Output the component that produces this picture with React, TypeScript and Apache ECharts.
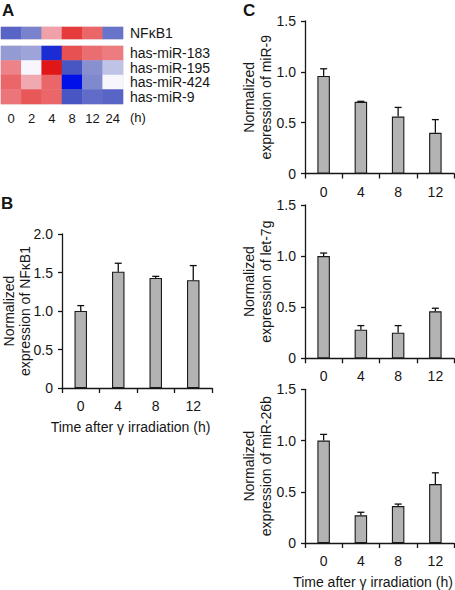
import React, { useEffect, useRef } from "react";
import * as echarts from "echarts";

// ---- Data ----
const heatTimes = ["0", "2", "4", "8", "12", "24"];
const heatGene = ["NFκB1"];
const nfkb1Heat = [-1.6, -1.2, 1.0, 2.4, 1.8, -1.4];
const mirNames = ["has-miR-183", "has-miR-195", "has-miR-424", "has-miR-9"];
const mir183Heat = [-0.9, -0.8, -2.5, 2.1, 1.7, 1.5];
const mir195Heat = [1.4, 0.0, 2.9, -1.8, -1.0, -0.5];
const mir424Heat = [1.8, 0.9, 1.8, -3.0, -1.1, 0.0];
const mir9Heat = [1.6, 2.0, 1.8, -1.8, -1.5, -1.6];

const timeLabels = ["0", "4", "8", "12"];
const nfkb1Mean = [1.0, 1.51, 1.43, 1.4];
const nfkb1Err = [0.07, 0.11, 0.02, 0.19];
const mir9Mean = [0.96, 0.705, 0.56, 0.40];
const mir9Err = [0.07, 0.005, 0.09, 0.13];
const let7gMean = [1.0, 0.28, 0.25, 0.46];
const let7gErr = [0.03, 0.04, 0.07, 0.03];
const mir26bMean = [1.0, 0.27, 0.36, 0.575];
const mir26bErr = [0.06, 0.03, 0.02, 0.11];

const FONT = "Liberation Sans, Arial, sans-serif";
const INK = "#161616";

export default function App() {
  const ref = useRef<HTMLDivElement>(null);
  useEffect(() => {
    if (!ref.current) return;
    const chart = echarts.init(ref.current, null, { renderer: "svg" });

    const heatRows = [mir183Heat, mir195Heat, mir424Heat, mir9Heat];
    const geneData = nfkb1Heat.map((v, i) => [i, 0, v]);
    const mirData: number[][] = [];
    heatRows.forEach((row, r) => row.forEach((v, c) => mirData.push([c, r, v])));

    const barGrids = [
      { left: 62, top: 234, width: 150, height: 154 },
      { left: 305, top: 21, width: 149, height: 152.5 },
      { left: 305, top: 205, width: 149, height: 153.3 },
      { left: 305, top: 389.3, width: 149, height: 153.7 },
    ];
    const barSets = [
      { mean: nfkb1Mean, err: nfkb1Err, max: 2, name: "Normalized\nexpression of NFκB1", xname: true, gap: 29, lh: 16 },
      { mean: mir9Mean, err: mir9Err, max: 1.5, name: "Normalized\nexpression of miR-9", xname: false, gap: 31, lh: 17 },
      { mean: let7gMean, err: let7gErr, max: 1.5, name: "Normalized\nexpression of let-7g", xname: false, gap: 31, lh: 17 },
      { mean: mir26bMean, err: mir26bErr, max: 1.5, name: "Normalized\nexpression of miR-26b", xname: true, gap: 31, lh: 17 },
    ];

    const grids: any[] = [
      { left: 1, top: 27, width: 122, height: 12, show: true, borderColor: "#eadde2", borderWidth: 1, outerBoundsMode: "none" },
      { left: 1, top: 46, width: 122, height: 58, show: true, borderColor: "#eadde2", borderWidth: 1, outerBoundsMode: "none" },
      ...barGrids.map((g) => ({ ...g, outerBoundsMode: "none" })),
    ];

    const xAxes: any[] = [
      { gridIndex: 0, type: "category", data: heatTimes, show: false },
      {
        gridIndex: 1, type: "category", data: heatTimes,
        axisLine: { show: false }, axisTick: { show: false },
        axisLabel: { fontSize: 13, color: INK, fontFamily: FONT, margin: 8, interval: 0 },
      },
    ];
    const yAxes: any[] = [
      {
        gridIndex: 0, type: "category", data: heatGene, position: "right",
        axisLine: { show: false }, axisTick: { show: false },
        axisLabel: { fontSize: 14, color: INK, fontFamily: FONT, margin: 7, interval: 0 },
      },
      {
        gridIndex: 1, type: "category", data: mirNames, position: "right", inverse: true,
        axisLine: { show: false }, axisTick: { show: false },
        axisLabel: { fontSize: 14, color: INK, fontFamily: FONT, margin: 7, interval: 0 },
      },
    ];
    const series: any[] = [
      { type: "heatmap", xAxisIndex: 0, yAxisIndex: 0, data: geneData, itemStyle: { borderWidth: 0 } },
      { type: "heatmap", xAxisIndex: 1, yAxisIndex: 1, data: mirData, itemStyle: { borderWidth: 0 } },
    ];

    barSets.forEach((s, k) => {
      const gi = k + 2;
      xAxes.push({
        gridIndex: gi, type: "category", data: timeLabels,
        axisLine: { lineStyle: { color: INK, width: 1.3 } },
        axisTick: { show: true, length: 5, lineStyle: { color: INK, width: 1.3 } },
        axisLabel: { fontSize: 14, color: INK, fontFamily: FONT, margin: 11, interval: 0 },
        name: s.xname ? "Time after γ irradiation (h)" : "",
        nameLocation: "middle", nameGap: 32, nameMoveOverlap: false,
        nameTextStyle: { fontSize: 14, color: INK, fontFamily: FONT, padding: [0, 13, 0, 0] },
      });
      yAxes.push({
        gridIndex: gi, type: "value", min: 0, max: s.max, interval: 0.5,
        axisLine: { show: true, lineStyle: { color: INK, width: 1.3 } },
        axisTick: { show: true, length: 4, lineStyle: { color: INK, width: 1.3 } },
        splitLine: { show: false },
        axisLabel: {
          fontSize: 14, color: INK, fontFamily: FONT, margin: 9,
          formatter: (v: number) => (v === 0 ? "0" : v.toFixed(1)),
        },
        name: s.name, nameLocation: "middle", nameGap: s.gap, nameRotate: 90, nameMoveOverlap: false,
        nameTextStyle: { fontSize: 14, lineHeight: s.lh, color: INK, fontFamily: FONT },
      });
      series.push({
        type: "bar", xAxisIndex: gi, yAxisIndex: gi, data: s.mean, barWidth: 12.5,
        itemStyle: { color: "#b3b3b3", borderColor: "#1a1a1a", borderWidth: 1.1 },
      });
      series.push({
        type: "custom", xAxisIndex: gi, yAxisIndex: gi,
        data: s.mean.map((m, i) => [i, m, m + s.err[i]]),
        encode: { x: 0, y: [1, 2] },
        renderItem: (params: any, api: any) => {
          const i = api.value(0);
          const p0 = api.coord([i, api.value(1)]);
          const p1 = api.coord([i, api.value(2)]);
          const st = { stroke: "#111", lineWidth: 1.3 };
          return {
            type: "group",
            children: [
              { type: "line", shape: { x1: p0[0], y1: p0[1], x2: p1[0], y2: p1[1] }, style: st },
              { type: "line", shape: { x1: p1[0] - 3.5, y1: p1[1], x2: p1[0] + 3.5, y2: p1[1] }, style: st },
            ],
          };
        },
        z: 5,
      });
    });

    chart.setOption({
      animation: false,
      backgroundColor: "#ffffff",
      textStyle: { fontFamily: FONT },
      grid: grids,
      xAxis: xAxes,
      yAxis: yAxes,
      visualMap: {
        show: false, type: "continuous", min: -3, max: 3, seriesIndex: [0, 1], dimension: 2,
        inRange: { color: ["#0010e8", "#3848c0", "#8890d0", "#f6f6fc", "#f0a0a8", "#e85858", "#e01010"] },
      },
      series,
      graphic: [
        { type: "text", left: 2, top: 2, style: { text: "A", font: "bold 17px " + FONT, fill: INK } },
        { type: "text", left: 1, top: 195, style: { text: "B", font: "bold 17px " + FONT, fill: INK } },
        { type: "text", left: 243, top: 2, style: { text: "C", font: "bold 17px " + FONT, fill: INK } },
        { type: "text", left: 130, top: 111, style: { text: "(h)", font: "13px " + FONT, fill: INK } },
      ],
    });
    return () => chart.dispose();
  }, []);
  return (
    <div
      ref={ref}
      style={{ position: "absolute", left: 0, top: 0, width: 455, height: 590, background: "#fff" }}
    />
  );
}
